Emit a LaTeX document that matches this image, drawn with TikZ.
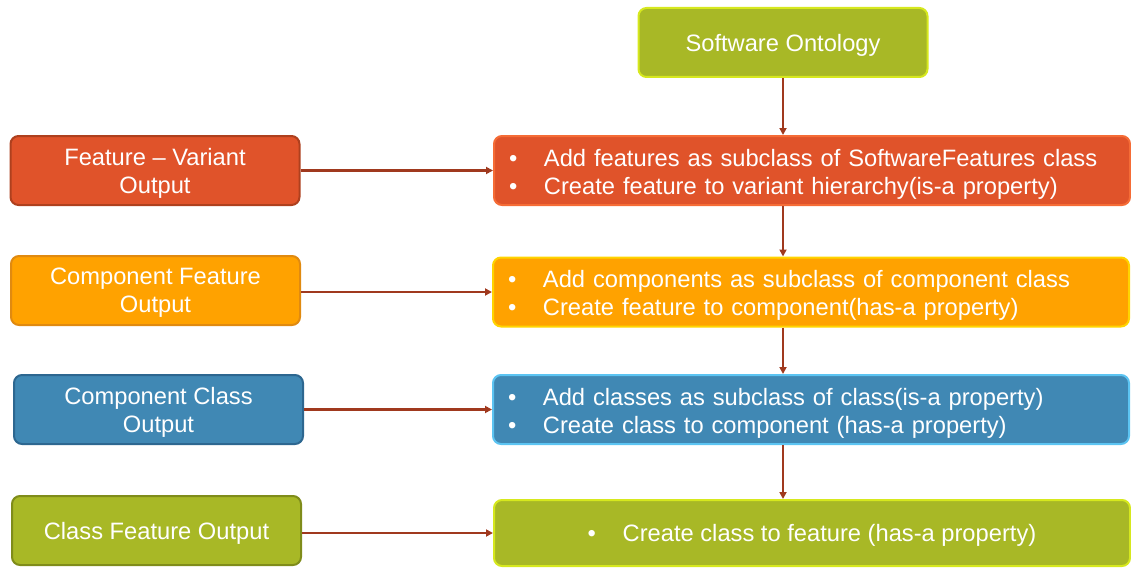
\documentclass[tikz,border=0pt]{standalone}
\usepackage{fontspec}
\setmainfont{Liberation Sans}
\usetikzlibrary{arrows.meta,calc}

\definecolor{cOlive}{HTML}{A8B826}
\definecolor{cOliveHi}{HTML}{D6E81E}
\definecolor{cOliveLo}{HTML}{7F8C1A}
\definecolor{cRed}{HTML}{E0532A}
\definecolor{cRedHi}{HTML}{F56C36}
\definecolor{cRedLo}{HTML}{AE401E}
\definecolor{cOrange}{HTML}{FFA200}
\definecolor{cOrangeHi}{HTML}{FFD400}
\definecolor{cOrangeLo}{HTML}{E08A10}
\definecolor{cBlue}{HTML}{4088B4}
\definecolor{cBlueHi}{HTML}{5CC4F2}
\definecolor{cBlueLo}{HTML}{2D6790}
\definecolor{cArrow}{HTML}{A0391E}

% bullet with a fixed hanging gap before the item text
\newcommand{\bul}{\makebox[35pt][l]{•}}
% first-line strut that lowers a two-line list a little
\newcommand{\firstline}{\rule{0pt}{24pt}}

\tikzset{
  box/.style={rectangle, rounded corners=8pt, line width=2pt, text=white,
    font=\fontsize{23.7}{28}\selectfont, inner sep=0pt},
  plainbox/.style={box, text depth=0pt},
  leftbox/.style={plainbox, minimum width=289, minimum height=69, align=center},
  listbox/.style={box, minimum height=69, inner xsep=15pt, align=left,
    text width=606pt},
  flow/.style={draw=cArrow, line width=2.2pt,
    -{Triangle[length=7pt,width=7pt]}}
}

\begin{document}
\begin{tikzpicture}[x=1pt,y=-1pt]
\useasboundingbox (0,0) rectangle (1131,567);

% top of the chain
\node[plainbox, fill=cOlive, draw=cOliveHi, minimum width=289, minimum height=69]
  (onto) at (783,42.5) {Software Ontology};

% output boxes on the left
\node[leftbox, fill=cRed, draw=cRedLo] (fv) at (155,170.5)
  {Feature -- Variant\\Output};
\node[leftbox, fill=cOrange, draw=cOrangeLo] (cf) at (155.5,290.5)
  {Component Feature\\Output};
\node[leftbox, fill=cBlue, draw=cBlueLo] (cc) at (158.5,409.5)
  {Component Class\\Output};
\node[leftbox, fill=cOlive, draw=cOliveLo] (clf) at (156.5,530.5)
  {Class Feature Output};

% ontology steps on the right
\node[listbox, fill=cRed, draw=cRedHi] (s1) at (812,170.5)
  {\firstline\bul Add features as subclass of SoftwareFeatures class\\
   \bul Create feature to variant hierarchy(is-a property)};
\node[listbox, fill=cOrange, draw=cOrangeHi] (s2) at (811,292)
  {\firstline\bul Add components as subclass of component class\\
   \bul Create feature to component(has-a property)};
\node[listbox, fill=cBlue, draw=cBlueHi] (s3) at (811,409.5)
  {\firstline\bul Add classes as subclass of class(is-a property)\\
   \bul Create class to component (has-a property)};
\node[plainbox, fill=cOlive, draw=cOliveHi, minimum width=636, minimum height=66,
  align=center] (s4) at (812,533)
  {\bul Create class to feature (has-a property)};

% vertical flow
\draw[flow] (onto.south) -- (onto.south |- s1.north);
\draw[flow] (s1.south -| onto.south) -- (onto.south |- s2.north);
\draw[flow] (s2.south -| onto.south) -- (onto.south |- s3.north);
\draw[flow] (s3.south -| onto.south) -- (onto.south |- s4.north);

% outputs feeding the steps
\draw[flow] (fv.east |- s1.west) -- (s1.west);
\draw[flow] (cf.east |- s2.west) -- (s2.west);
\draw[flow] (cc.east |- s3.west) -- (s3.west);
\draw[flow] (clf.east |- s4.west) -- (s4.west);
\end{tikzpicture}
\end{document}
